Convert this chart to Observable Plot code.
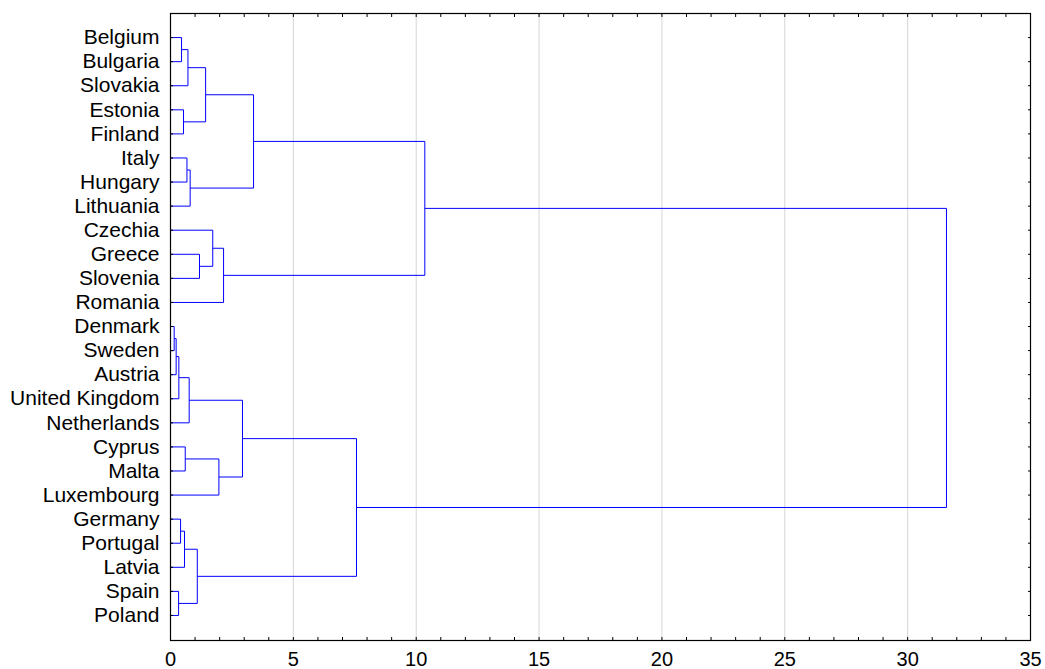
<!DOCTYPE html>
<html><head><meta charset="utf-8">
<script src="https://cdn.jsdelivr.net/npm/d3@7"></script>
<script src="https://cdn.jsdelivr.net/npm/@observablehq/plot@0.6"></script>
<style>
body{margin:0;background:#fff;font-family:"Liberation Sans",Arial,sans-serif}
</style>
</head><body><div id="chart"></div>
<script>
// Leaves in display order (top to bottom)
const leaves = ["Belgium","Bulgaria","Slovakia","Estonia","Finland","Italy","Hungary","Lithuania",
  "Czechia","Greece","Slovenia","Romania","Denmark","Sweden","Austria","United Kingdom","Netherlands",
  "Cyprus","Malta","Luxembourg","Germany","Portugal","Latvia","Spain","Poland"];
// Merges: node id = leaves.length + index; children refer to leaf index or earlier node id
const mergeLeft  = [0,25,3,26,5,29,28,9,8,33,31,12,36,37,38,17,40,39,20,43,23,44,42,35];
const mergeRight = [1,2,4,27,6,7,30,10,32,11,34,13,14,15,16,18,19,41,21,22,24,45,46,47];
const mergeHeight = [0.45,0.71,0.53,1.43,0.67,0.80,3.38,1.18,1.72,2.16,10.35,0.15,0.23,0.34,0.76,0.60,1.97,2.93,0.41,0.57,0.33,1.09,7.57,31.58];
const xTicks = [0,5,10,15,20,25,30,35];
const xMinor = d3.range(0, 36, 1);

const n = leaves.length;
const nx = leaves.map(() => 0);
const ny = leaves.map((_, i) => i);
const segments = [];
mergeHeight.forEach((h, k) => {
  const a = mergeLeft[k], b = mergeRight[k];
  segments.push({x1: nx[a], y1: ny[a], x2: h, y2: ny[a]});
  segments.push({x1: nx[b], y1: ny[b], x2: h, y2: ny[b]});
  segments.push({x1: h, y1: ny[a], x2: h, y2: ny[b]});
  nx[n + k] = h;
  ny[n + k] = (ny[a] + ny[b]) / 2;
});
const leafIdx = d3.range(n);

const chart = Plot.plot({
  width: 1045,
  height: 669,
  marginLeft: 170,
  marginRight: 15,
  marginTop: 13,
  marginBottom: 29,
  style: {fontFamily: "'Liberation Sans', Arial, sans-serif", background: "#fff", color: "#000"},
  x: {domain: [0, 35]},
  y: {domain: [-1, 25.04], reverse: true},
  marks: [
    Plot.gridX(xTicks.slice(1, -1), {stroke: "#d6d6d6", strokeOpacity: 1}),
    Plot.link(segments, {x1: "x1", y1: "y1", x2: "x2", y2: "y2", stroke: "#0000ff", strokeWidth: 1}),
    Plot.axisX(xMinor, {anchor: "bottom", tickSize: -3, fill: "none", label: null}),
    Plot.axisX(xMinor, {anchor: "top", tickSize: -3, fill: "none", label: null}),
    Plot.axisX(xTicks, {anchor: "bottom", tickSize: 0, tickPadding: 11, fontSize: 20, label: null}),
    Plot.axisY(leafIdx, {anchor: "left", tickSize: -3, fill: "none", label: null}),
    Plot.axisY(leafIdx, {anchor: "right", tickSize: -3, fill: "none", label: null}),
    Plot.axisY(leafIdx, {anchor: "left", tickSize: 0, tickPadding: 11, fontSize: 21, tickFormat: i => leaves[i], label: null}),
    Plot.frame({stroke: "#000", strokeWidth: 1.2})
  ]
});
document.getElementById("chart").appendChild(chart);
</script>
</body></html>
